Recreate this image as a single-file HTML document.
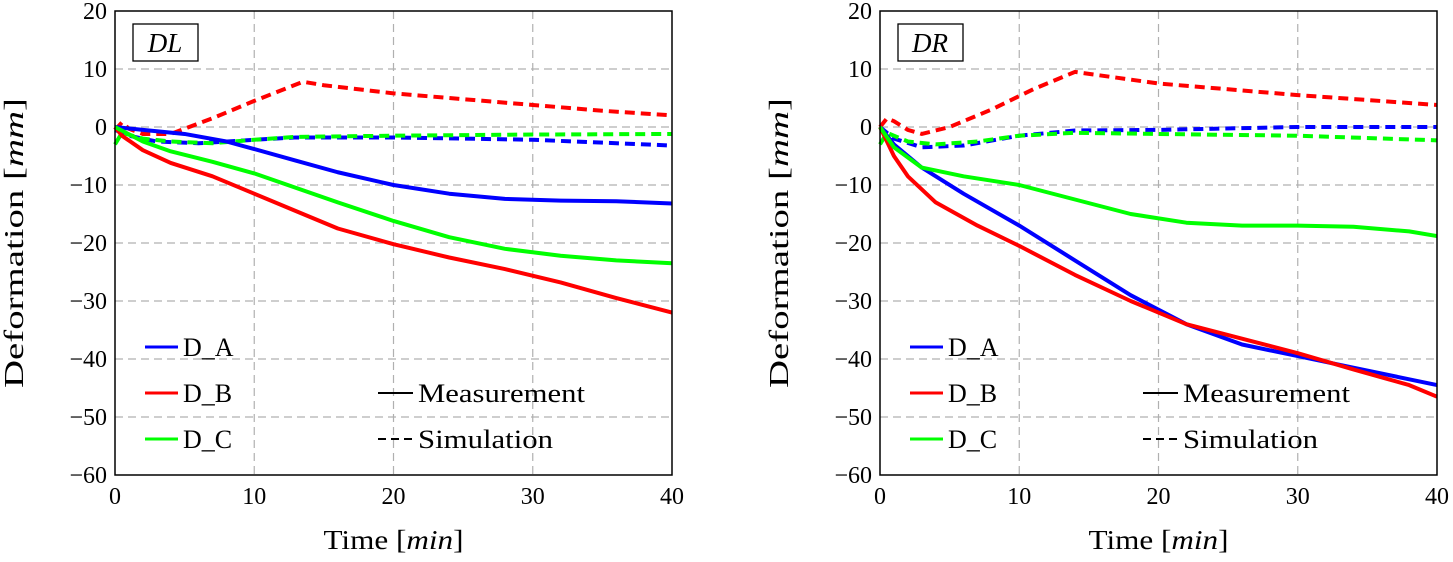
<!DOCTYPE html>
<html><head><meta charset="utf-8"><style>
body{margin:0;background:#fff}
svg text{font-family:"Liberation Serif",serif;fill:#000}
</style></head><body>
<svg id="c" width="1453" height="557"></svg>
<script>
const timesTicks=[0,10,20,30,40];
const yTicks=[20,10,0,-10,-20,-30,-40,-50,-60];
const yTickLabels=["20","10","0","\u221210","\u221220","\u221230","\u221240","\u221250","\u221260"];
const dlMeasA=[[0,0],[2,-0.5],[5,-1.2],[8,-2.5],[10,-3.8],[13,-5.8],[16,-7.8],[20,-10],[24,-11.5],[28,-12.4],[32,-12.7],[36,-12.8],[40,-13.2]];
const dlMeasB=[[0,0],[0.5,-1.5],[2,-4],[4,-6.2],[7,-8.5],[10,-11.5],[13,-14.5],[16,-17.5],[20,-20.2],[24,-22.5],[28,-24.5],[32,-26.8],[36,-29.5],[40,-32]];
const dlMeasC=[[0,0],[2,-2.5],[4,-4.2],[7,-6],[10,-8],[13,-10.5],[16,-13],[20,-16.2],[24,-19],[28,-21],[32,-22.2],[36,-23],[40,-23.5]];
const dlSimA=[[0,-0.5],[1,-1.5],[3,-2.5],[6,-2.8],[10,-2.2],[13,-1.8],[20,-1.8],[30,-2.2],[40,-3.2]];
const dlSimB=[[0,-0.5],[0.5,0.8],[1,-0.3],[2,-1.2],[4,-1.2],[7,1.5],[10,4.5],[13.5,7.8],[15,7.2],[20,5.8],[25,4.8],[30,3.8],[35,2.8],[40,2]];
const dlSimC=[[0,-3],[0.5,-1],[2,-2],[4,-2.5],[7,-2.8],[10,-2.2],[13,-1.7],[20,-1.5],[30,-1.3],[40,-1.2]];
const drMeasA=[[0,0],[1,-3],[3,-7],[6,-11.5],[10,-17],[14,-23],[18,-29],[22,-34],[26,-37.5],[30,-39.5],[34,-41.5],[38,-43.5],[40,-44.5]];
const drMeasB=[[0,0],[1,-5],[2,-8.5],[4,-13],[7,-17],[10,-20.5],[14,-25.5],[18,-30],[22,-34],[26,-36.5],[30,-39],[34,-41.8],[38,-44.5],[40,-46.5]];
const drMeasC=[[0,0],[1,-3.5],[3,-7],[6,-8.5],[10,-10],[14,-12.5],[18,-15],[22,-16.5],[26,-17],[30,-17],[34,-17.2],[38,-18],[40,-18.8]];
const drSimA=[[0,0],[1,-2],[3,-3.5],[6,-3.2],[10,-1.5],[14,-0.6],[20,-0.5],[30,0],[40,0]];
const drSimB=[[0,0],[0.5,1.5],[1,1],[2,-0.5],[3,-1.2],[5,0],[8,3],[11,6.5],[14,9.5],[17,8.5],[20,7.5],[30,5.5],[40,3.8]];
const drSimC=[[0,-3],[0.5,-1],[1,-1.5],[2,-2.5],[4,-3],[7,-2.5],[10,-1.5],[14,-1],[20,-1.2],[30,-1.5],[40,-2.3]];

const NS="http://www.w3.org/2000/svg";
const svg=document.getElementById('c');
function mk(tag,attrs,parent){const e=document.createElementNS(NS,tag);for(const k in attrs)e.setAttribute(k,attrs[k]);(parent||svg).appendChild(e);return e;}
const colors={A:"#0000ff",B:"#ff0000",C:"#00ff00"};
function panel(x0,title,meas,sims,prefix){
  const x1=x0+557,yT=11,yB=475;
  const sx=v=>x0+(v/40)*(x1-x0);
  const sy=v=>yT+(20-v)/80*(yB-yT);
  const g=mk('g',{});
  
  
  timesTicks.forEach(t=>{if(t>0&&t<40){const l=mk('line',{x1:sx(t),x2:sx(t),y1:yT,y2:yB,stroke:'#b0b0b0','stroke-dasharray':'8,5','stroke-width':1.2},g);}
    const tx=mk('text',{x:sx(t),y:yB+29,'text-anchor':'middle','font-size':24},g);tx.textContent=t;});
  yTicks.forEach((t,i)=>{if(t<20&&t>-60){const l=mk('line',{x1:x0,x2:x1,y1:sy(t),y2:sy(t),stroke:'#b0b0b0','stroke-dasharray':'8,5','stroke-width':1.2},g);}
    const tx=mk('text',{x:x0-8,y:sy(t)+8,'text-anchor':'end','font-size':24},g);tx.textContent=yTickLabels[i];});
  const keys=['A','B','C'];
  keys.forEach((k,i)=>{const p=mk('polyline',{points:sims[i].map(d=>sx(d[0])+','+sy(d[1])).join(' '),fill:'none',stroke:colors[k],'stroke-width':4,'stroke-dasharray':'10,6'},g);});
  keys.forEach((k,i)=>{const p=mk('polyline',{points:meas[i].map(d=>sx(d[0])+','+sy(d[1])).join(' '),fill:'none',stroke:colors[k],'stroke-width':4,'stroke-linejoin':'round'},g);});
  const fr=mk('rect',{x:x0,y:yT,width:x1-x0,height:yB-yT,fill:'none',stroke:'#000','stroke-width':1.5},g);
  
  const tb=mk('rect',{x:x0+18,y:24,width:65,height:37,fill:'#fff',stroke:'#000','stroke-width':1.3},g);
  
  const tt=mk('text',{x:x0+50,y:52,'text-anchor':'middle','font-size':27,'font-style':'italic'},g);tt.textContent=title;
  
  keys.forEach((k,i)=>{const y=347+46*i;
    const l=mk('line',{x1:x0+30,x2:x0+63,y1:y,y2:y,stroke:colors[k],'stroke-width':3},g);
    const t=mk('text',{x:x0+68,y:y+9,'font-size':26},g);t.textContent='D_'+k;});
  [['Measurement',null],['Simulation','8,5']].forEach((s,i)=>{const y=393+46*i;
    const a={x1:x0+263,x2:x0+298,y1:y,y2:y,stroke:'#000','stroke-width':2};if(s[1])a['stroke-dasharray']=s[1];
    const l=mk('line',a,g);
    const t=mk('text',{x:x0+303,y:y+9,'font-size':26,textLength:s[0]==='Measurement'?167:135,lengthAdjust:'spacingAndGlyphs'},g);t.textContent=s[0];});
  const xl=mk('text',{x:(x0+x1)/2,y:549,'text-anchor':'middle','font-size':27,textLength:140,lengthAdjust:'spacingAndGlyphs'},g);
  xl.innerHTML='Time [<tspan font-style="italic">min</tspan>]';
  const yl=mk('text',{x:0,y:0,'text-anchor':'middle','font-size':27,textLength:290,lengthAdjust:'spacingAndGlyphs',transform:`translate(${x0-92},243) rotate(-90)`},g);
  yl.innerHTML='Deformation [<tspan font-style="italic">mm</tspan>]';
}
panel(115,'DL',[dlMeasA,dlMeasB,dlMeasC],[dlSimA,dlSimB,dlSimC],'dl');
panel(880,'DR',[drMeasA,drMeasB,drMeasC],[drSimA,drSimB,drSimC],'dr');
</script>
</body></html>
